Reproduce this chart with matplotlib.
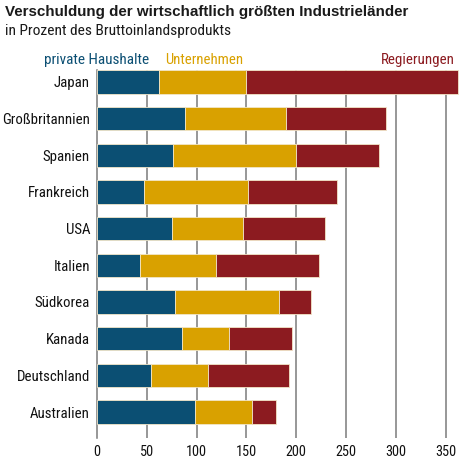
import matplotlib
matplotlib.use("Agg")
import matplotlib.pyplot as plt
from matplotlib import font_manager

countries = ["Japan", "Großbritannien", "Spanien", "Frankreich", "USA",
             "Italien", "Südkorea", "Kanada", "Deutschland", "Australien"]
haushalte = [62, 88, 76.5, 47, 75.5, 43, 78.5, 85, 54.5, 98]
unternehmen = [88, 102, 123.5, 105, 71, 76, 104, 48, 56.5, 58]
regierungen = [212, 100, 83, 89, 82.5, 104, 32.5, 63, 82, 24]
series_names = ["private Haushalte", "Unternehmen", "Regierungen"]
xticks = [0, 50, 100, 150, 200, 250, 300, 350]

C_BLUE = "#0b4f73"
C_GOLD = "#d9a100"
C_RED = "#8c1b20"
C_GRID = "#7a7a7a"


def pick(names):
    for n in names:
        try:
            font_manager.findfont(n, fallback_to_default=False)
            return n
        except Exception:
            pass
    return "DejaVu Sans"

NARROW = pick(["Liberation Sans Narrow", "Roboto Condensed", "DejaVu Sans"])
BOLDF = pick(["Liberation Sans", "DejaVu Sans"])

fig = plt.figure(figsize=(4.74, 4.67), dpi=100)
W, H = 474, 467
ax_left, ax_right = 97, 460
ax_top, ax_bot = 70, 438
ax = fig.add_axes([ax_left / W, 1 - ax_bot / H, (ax_right - ax_left) / W, (ax_bot - ax_top) / H])

y = list(range(len(countries)))
left2 = [a for a in haushalte]
left3 = [a + b for a, b in zip(haushalte, unternehmen)]
bh = 0.64
kw = dict(height=bh, edgecolor="#f2e6c8", linewidth=0.6, zorder=3)
ax.barh(y, haushalte, color=C_BLUE, **kw)
ax.barh(y, unternehmen, left=left2, color=C_GOLD, **kw)
ax.barh(y, regierungen, left=left3, color=C_RED, **kw)

ax.set_xlim(0, 364.4)
ax.set_ylim(len(countries) - 1 + 0.709, -0.327)
ax.set_xticks(xticks)
ax.set_xticklabels([str(t) for t in xticks], fontfamily=NARROW, fontsize=13.5,
                   fontweight="normal")
ax.set_yticks(y)
ax.set_yticklabels(countries, fontfamily=NARROW, fontsize=13.5, fontweight="normal")
ax.tick_params(axis="both", length=0, colors="#111111")
ax.tick_params(axis="x", pad=5)
ax.tick_params(axis="y", pad=5)
for t in xticks[1:]:
    ax.axvline(t, color=C_GRID, lw=1.1, zorder=1)
for s in ["top", "right", "bottom"]:
    ax.spines[s].set_visible(False)
ax.spines["left"].set_color(C_GRID)
ax.spines["left"].set_linewidth(1.1)
ax.set_facecolor("white")

fig.canvas.draw()
rend = fig.canvas.get_renderer()

# fit y tick label size so the longest label matches the reference width
ylabs = ax.get_yticklabels()
ref = ylabs[1]
fs = ref.get_fontsize()
for _ in range(3):
    w = ref.get_window_extent(renderer=rend).width
    fs = fs * 88 / w
    for t in ylabs:
        t.set_fontsize(fs)
xl = ax.get_xticklabels()
fsx = xl[-1].get_fontsize()
for _ in range(3):
    w = xl[-1].get_window_extent(renderer=rend).width
    fsx = fsx * 21 / w
    for t in xl:
        t.set_fontsize(fsx)


def fit_text(xp, yp, s, target_w, **kw):
    t = fig.text(xp / W, 1 - yp / H, s, **kw)
    fs = t.get_fontsize()
    for _ in range(3):
        w = t.get_window_extent(renderer=rend).width
        fs = fs * target_w / w
        t.set_fontsize(fs)
    return t

fit_text(5, 12, "Verschuldung der wirtschaftlich größten Industrieländer", 403,
         fontfamily=BOLDF, fontweight="bold", fontsize=12, va="center", ha="left", color="#1a1a1a")
fit_text(5, 31, "in Prozent des Bruttoinlandsprodukts", 226,
         fontfamily=NARROW, fontsize=11, va="center", ha="left", color="#1a1a1a")

fit_text(44, 60, series_names[0], 106, fontfamily=NARROW, fontsize=12.5,
         color=C_BLUE, va="center", ha="left")
fit_text(165, 60, series_names[1], 78, fontfamily=NARROW, fontsize=12.5,
         color=C_GOLD, va="center", ha="left")
fit_text(455, 60, series_names[2], 74, fontfamily=NARROW, fontsize=12.5,
         color=C_RED, va="center", ha="right")

fig.savefig("out.png", dpi=100, facecolor="white")
